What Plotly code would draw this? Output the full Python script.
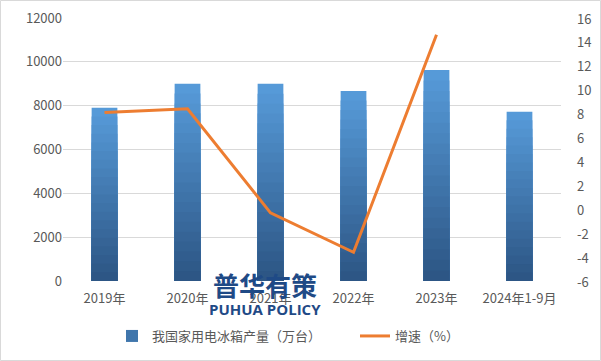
import plotly.graph_objects as go

categories = ["2019年", "2020年", "2021年", "2022年", "2023年", "2024年1-9月"]
production = [7904, 9000, 8996, 8664, 9632, 7723]
growth = [8.1, 8.4, -0.3, -3.6, 14.6, None]
left_ticks = [0, 2000, 4000, 6000, 8000, 10000, 12000]
left_labels = ["0", "2000", "4000", "6000", "8000", "10000", "12000"]
right_ticks = [-6, -4, -2, 0, 2, 4, 6, 8, 10, 12, 14, 16]

font_family = "Noto Sans CJK SC, Microsoft YaHei, sans-serif"
tick_color = "#595959"

L, R, T, B = 63, 40, 18, 80
PW, PH = 601 - L - R, 361 - T - B

# vertical gradient for bars (light top -> dark bottom), drawn as overlaid fractions
top_rgb = (86, 154, 216)
bot_rgb = (45, 86, 133)
steps = 20

fig = go.Figure()
for k in range(steps):
    f = 1 - k / steps
    t = k / (steps - 1)
    c = tuple(round(top_rgb[i] + (bot_rgb[i] - top_rgb[i]) * t) for i in range(3))
    fig.add_trace(go.Bar(
        x=categories, y=[v * f for v in production],
        name="我国家用电冰箱产量（万台）",
        marker=dict(color="rgb(%d,%d,%d)" % c, line=dict(width=0)), width=0.31,
        legend="legend", showlegend=(k == steps // 2), hoverinfo="skip" if k else None,
    ))
fig.add_trace(go.Scatter(
    x=categories, y=growth, name="增速（%）", yaxis="y2",
    mode="lines", line=dict(color="#ed7d31", width=3), legend="legend2",
))

legend_common = dict(orientation="h", xanchor="left", yanchor="middle",
                     font=dict(size=13, color=tick_color), bgcolor="rgba(0,0,0,0)")

fig.update_layout(
    width=601, height=361,
    barmode="overlay",
    margin=dict(l=L, r=R, t=T, b=B, autoexpand=False),
    paper_bgcolor="white", plot_bgcolor="white",
    font=dict(family=font_family, size=12, color=tick_color),
    showlegend=True,
    legend=dict(x=(112 - L) / PW, y=(281 - 336) / PH, **legend_common),
    legend2=dict(x=(355 - L) / PW, y=(281 - 336) / PH, **legend_common),
    xaxis=dict(showgrid=False, showline=False, ticks="", ticklabelstandoff=8,
               tickfont=dict(size=13, color=tick_color)),
    yaxis=dict(range=[0, 12000], tickvals=left_ticks, ticktext=left_labels, showgrid=True,
               gridcolor="#d9d9d9", gridwidth=1, zeroline=False, showline=False, ticks="",
               tickfont=dict(size=13, color=tick_color)),
    yaxis2=dict(range=[-6, 16], tickvals=right_ticks, overlaying="y", side="right",
                showgrid=False, zeroline=False, showline=False, ticks="",
                showticklabels=False),
)

# right-axis tick labels, placed on the y2 scale, set further out from the plot edge
for v in right_ticks:
    fig.add_annotation(text=str(v), xref="paper", yref="y2", x=1 + 14 / PW, y=v,
                       showarrow=False, xanchor="left", yanchor="middle",
                       font=dict(size=13, color=tick_color, family=font_family))

fig.add_shape(type="rect", xref="paper", yref="paper", x0=-(L - 0.5) / PW, x1=1 + (R - 0.5) / PW,
              y0=-(B - 0.5) / PH, y1=1 + (T - 0.5) / PH, line=dict(color="#d9d9d9", width=1))

fig.add_annotation(text="<b>普华有策</b>", xref="paper", yref="paper", x=(265 - L) / PW,
                   y=(281 - 284) / PH, showarrow=False,
                   font=dict(size=26, color="#1f4a86", family=font_family),
                   xanchor="center", yanchor="middle")
fig.add_annotation(text="<b>PUHUA POLICY</b>", xref="paper", yref="paper", x=(265 - L) / PW,
                   y=(281 - 309) / PH, showarrow=False,
                   font=dict(size=15, color="#1f4a86", family="Open Sans, sans-serif"),
                   xanchor="center", yanchor="middle")

fig.write_html("out.html", config={"displayModeBar": False},
               post_script="document.body.style.margin='0';document.body.style.overflow='hidden';")
